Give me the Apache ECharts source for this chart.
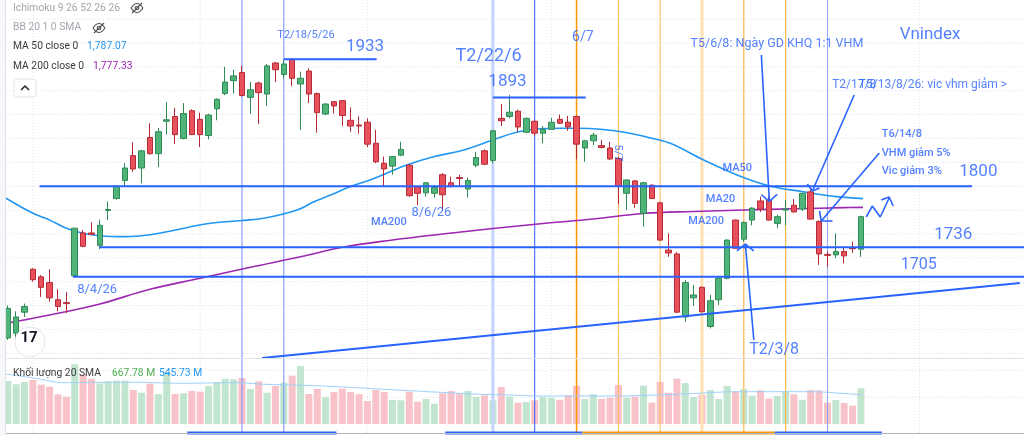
<!DOCTYPE html>
<html>
<head>
<meta charset="utf-8">
<title>Vnindex</title>
<script src="https://cdn.jsdelivr.net/npm/echarts@6/dist/echarts.min.js"></script>
<style>
    html, body { margin: 0; padding: 0; background: #fff; }
    #chart { width: 1024px; height: 435px; }
</style>
</head>
<body>
<div id="chart"></div>
<script>
    // sessions start 27/3/2026, VN holidays skipped
    var holidays = ['2026-04-27', '2026-04-30', '2026-05-01', '2026-09-01', '2026-09-02'];

    // [open, close, low, high]
    var candles = [
        [1641, 1672, 1639, 1675], [1646, 1663, 1640, 1669], [1668, 1674, 1663, 1677], [1713, 1702, 1700, 1714],
        [1705, 1694, 1684, 1707], [1699, 1683, 1679, 1713], [1681, 1674, 1669, 1692], [1678, 1677, 1667, 1689],
        [1706, 1756, 1705, 1756], [1751, 1737, 1736, 1754], [1751, 1749.5, 1749, 1762], [1738, 1759, 1734, 1765],
        [1774.5, 1775.5, 1764.5, 1784], [1787, 1800, 1786, 1801], [1806, 1819, 1799, 1824], [1832, 1818, 1815, 1846],
        [1819, 1837, 1803, 1838], [1851, 1834, 1833, 1866], [1834, 1857, 1820, 1861], [1868, 1869.5, 1854, 1888],
        [1873, 1854, 1844, 1882], [1850, 1876, 1849, 1887], [1879, 1854, 1853.5, 1880.5], [1870, 1854, 1841, 1877],
        [1853, 1874.5, 1849, 1876], [1881, 1891, 1869, 1892], [1897, 1909, 1895.5, 1925], [1910.5, 1915.5, 1897, 1922],
        [1919, 1895, 1894, 1926], [1893, 1901, 1876, 1909], [1908, 1898, 1865, 1909.5], [1896.5, 1926, 1884, 1928],
        [1929, 1922, 1909, 1930], [1917, 1928, 1913, 1932], [1933, 1913, 1905, 1934], [1907, 1913, 1859, 1920],
        [1920.5, 1896.5, 1887, 1923.5], [1897, 1877, 1856, 1898], [1875.5, 1886, 1874.5, 1887], [1888.5, 1884, 1876, 1888.5],
        [1889.5, 1874, 1863, 1890], [1869, 1863, 1857, 1882.5], [1864, 1863, 1855, 1873], [1867, 1844, 1841, 1871],
        [1845, 1825.5, 1824, 1859], [1824, 1818, 1799, 1831], [1821, 1831, 1812, 1831.5], [1832.5, 1838.5, 1831.5, 1846.5],
        [1822, 1790, 1789, 1823], [1799.5, 1792.5, 1780, 1800], [1793, 1803.5, 1789, 1804.5], [1792.5, 1798.5, 1788, 1801],
        [1812, 1791, 1775, 1813.5], [1803.5, 1799.5, 1799, 1810], [1809, 1808, 1800, 1812], [1797, 1806, 1788, 1809],
        [1822, 1830, 1820, 1836], [1837, 1823, 1822, 1838.5], [1827, 1858, 1824, 1859], [1871, 1868.5, 1863, 1886],
        [1873, 1877.5, 1871, 1895.5], [1878.5, 1862, 1857, 1880], [1856.5, 1871, 1855.5, 1872], [1868, 1855.5, 1852, 1869],
        [1855.5, 1859.5, 1845, 1863], [1859.5, 1867, 1859, 1871.5], [1870, 1866, 1865, 1875], [1867, 1862, 1858, 1873.5],
        [1873, 1844, 1828, 1874], [1840, 1847.5, 1825.5, 1848.5], [1847.5, 1853.5, 1843, 1856], [1842.5, 1840.5, 1839.5, 1848.5],
        [1840, 1828.5, 1827.5, 1846.5], [1829, 1800, 1781, 1831], [1792.5, 1806.5, 1775, 1807], [1805.5, 1782, 1777, 1806.5],
        [1771.5, 1803.5, 1757.5, 1804.5], [1801, 1787, 1786.5, 1802], [1782.5, 1743.5, 1743, 1783.5], [1733, 1730, 1726, 1750.5],
        [1729, 1668, 1667, 1731], [1663, 1699, 1658, 1701.5], [1683, 1686, 1674.5, 1696.5], [1694, 1668.5, 1667.5, 1695],
        [1653, 1680, 1651, 1686], [1681, 1703.5, 1675.5, 1705], [1703.5, 1743.5, 1702.5, 1744.5], [1764.5, 1735, 1734.5, 1765],
        [1744.5, 1762, 1742, 1763], [1764.5, 1777, 1759, 1778], [1784.5, 1776, 1773, 1789], [1785, 1764.5, 1764, 1789],
        [1761, 1768, 1756, 1770], [1775, 1776, 1759, 1785.5], [1780, 1773, 1772.5, 1786.5], [1776, 1792.5, 1774, 1793],
        [1794, 1765.5, 1765, 1798], [1763, 1729, 1717.5, 1764], [1728.5, 1727.5, 1715.5, 1731.5], [1728, 1731.5, 1724.5, 1750.5],
        [1731.5, 1727, 1719, 1736.5], [1735.5, 1734.5, 1730, 1742], [1734, 1768, 1726, 1769]
    ];

    // volume, millions
    var volumes = [
        804, 742, 785, 823, 735, 698, 555, 511, 1116, 929,
        847, 761, 798, 810, 810, 636, 585, 754, 561, 972,
        561, 574, 617, 604, 711, 785, 847, 836, 860, 655,
        798, 585, 711, 772, 903, 1085, 561, 655, 505, 598,
        660, 598, 555, 430, 636, 598, 449, 443, 604, 417,
        468, 380, 574, 617, 574, 617, 505, 537, 443, 692,
        511, 398, 411, 443, 505, 492, 454, 542, 716, 468,
        555, 468, 492, 729, 492, 511, 716, 398, 785, 585,
        847, 767, 505, 548, 636, 468, 711, 604, 655, 529,
        630, 473, 524, 617, 555, 454, 636, 630, 398, 449,
        393, 342, 668
    ];

    // indicator curves: [session index, value]
    var ma50 = [[-0.2, 1787.3], [3, 1771.6], [5, 1764.5], [7, 1755.9], [9, 1750.6], [11, 1748.1], [13.4, 1747.1],
        [15.7, 1747.8], [18.1, 1750.6], [20.5, 1754.8], [22.9, 1759.3], [25, 1762], [27.8, 1763.8], [30.6, 1766.3],
        [34.6, 1775], [36.6, 1783.7], [38.6, 1790.7], [40.9, 1799.4], [43.3, 1806.5], [45.7, 1815.1], [47.7, 1822.2],
        [50.9, 1830.9], [54.2, 1837.1], [58, 1848.4], [60.6, 1856], [63, 1859.6], [66.2, 1860.6], [68.1, 1860.6],
        [70.9, 1859.6], [74.1, 1856], [76.5, 1851.2], [79.2, 1844.9], [83.2, 1827.4], [87.2, 1811.7], [91.1, 1800.2],
        [95.1, 1794.2], [99.1, 1789], [102.25, 1786.9]];
    var ma200 = [[-0.2, 1656.3], [5, 1665], [11, 1676.6], [17, 1692], [23, 1703.5], [29, 1715], [35, 1726],
        [40, 1736], [46, 1743.6], [52, 1749.9], [58, 1755.6], [64, 1760.9], [70, 1765.6], [76, 1771.4], [82, 1773.5],
        [88, 1775], [94, 1776.3], [100, 1777.5], [102.25, 1777.8]];
    var volSma = [[-0.9, 948], [1.45, 898], [3.8, 842], [6.6, 772], [11, 780], [14.9, 780], [20.9, 761], [26.8, 772],
        [30.9, 742], [36.8, 716], [42.8, 668], [48.7, 617], [52.6, 585], [56.6, 555], [60, 542], [64, 524], [72, 524],
        [79.9, 555], [87.8, 604], [95.7, 604], [99.7, 574], [102.1, 542]];

    // grid ticks
    var priceTicks = [1625, 1650, 1675, 1700, 1725, 1750, 1775, 1800, 1825, 1850, 1875, 1900, 1925, 1950, 1975];
    var volTicks = [500, 1000];
    var monthStarts = [3, 23, 43, 65, 88, 109];
    var weekLines = [28, 33, 58, 63, 68, 73, 78, 83, 88, 93, 98];

    // drawings: [fromIndex, toIndex, price]
    var levels = [[33, 44.1, 1933], [58, 69.1, 1893], [3.8, 115.3, 1800], [11, 121.5, 1736], [7.8, 121.5, 1705]];
    var trend = [[30.4, 1620], [121, 1698.6]];
    var arrows = [
        [[90.1, 1937.4], [91.05, 1785]],
        [[101.2, 1895.5], [96.2, 1794.9]],
        [[104.2, 1834.7], [97.26, 1763.5]],
        [[89.2, 1638.9], [88.18, 1739.4]],
        [[102.64, 1767.7], [103.36, 1779.2], [104.31, 1767.7], [105.38, 1787.6]]
    ];
    var arrowHeads = [
        [[90.1, 1791], [91.05, 1784], [92.0, 1791.5]],
        [[95.6, 1802.3], [96.2, 1794.9], [97.05, 1798.1]],
        [[97.05, 1774], [97.26, 1763.5], [98.6, 1763.5]],
        [[87.17, 1732.1], [88.18, 1739.4], [89.19, 1732.1]],
        [[104.43, 1785.5], [105.38, 1788.6], [105.86, 1779.2]]
    ];
    var timeRanges = [[21.45, 39.3, 'b'], [52.3, 68.7, 'b'], [68.7, 91.7, 'o'], [91.7, 104.5, 'b']];

    var notes = [
        [32.17, 1958.3, 'T2/18/5/26'], [40.37, 1945.8, '1933'], [53.48, 1935.3, 'T2/22/6'], [57.4, 1909.1, '1893'],
        [67.4, 1955.2, '6/7'], [81.57, 1948.9, 'T5/6/8: Ngày GD KHQ 1:1 VHM'], [106.57, 1958.3, 'Vnindex'],
        [98.5, 1906, 'T2/17/8'], [101.69, 1906, 'T5/13/8/26: vic vhm giảm >'], [104.43, 1854.6, 'T6/14/8'],
        [104.43, 1834.7, 'VHM giảm 5%'], [104.43, 1815.9, 'Vic giảm 3%'], [113.7, 1814.8, '1800'],
        [110.7, 1748.8, '1736'], [106.7, 1717.4, '1705'], [88.6, 1628.4, 'T2/3/8'], [85.4, 1819, 'MA50'],
        [83.4, 1786.5, 'MA20'], [81.3, 1763.5, 'MA200'], [43.36, 1762.5, 'MA200'], [48.2, 1771.9, '8/6/26'],
        [8.24, 1691.2, '8/4/26'], [72.9, 1834.7, '5/7']
    ];
    var noteSize = [11, 17, 18, 17, 14, 12.5, 17, 12, 12, 11, 11, 11, 17, 17, 16, 16, 11, 11, 11, 11, 13, 13, 11];

    var sessions = [];
    (function () {
        var d = new Date(Date.UTC(2026, 2, 27));
        while (sessions.length < 122) {
            var wd = d.getUTCDay();
            var s = d.toISOString().slice(0, 10);
            if (wd !== 0 && wd !== 6 && holidays.indexOf(s) < 0) sessions.push(s);
            d.setUTCDate(d.getUTCDate() + 1);
        }
    })();

    var BLUE = '#2962ff';
    var TXT = 'Roboto, "Noto Sans", sans-serif';
    var series = [];

    // pane 0 = price, pane 1 = volume
    function seg(pts, color, width, type, pane, z, clip) {
        series.push({
            type: 'line', xAxisIndex: pane ? 3 : 2, yAxisIndex: pane ? 1 : 0,
            data: pts, symbol: 'none', silent: true, z: z, clip: clip !== false,
            lineStyle: { color: color, width: width, type: type || 'solid' }
        });
    }

    priceTicks.forEach(function (p) { seg([[-0.5, p], [121.5, p]], '#dde0e7', 1, [1, 2], 0, 1); });
    volTicks.forEach(function (v) { seg([[-0.5, v], [121.5, v]], '#dde0e7', 1, [1, 2], 1, 1); });
    monthStarts.forEach(function (i) {
        seg([[i, 1620], [i, 1995]], '#dde0e7', 1, [1, 2], 0, 1);
        seg([[i, -168], [i, 1215]], '#dde0e7', 1, [1, 2], 1, 1);
    });

    var weekStyle = {
        28: ['#6f8cff', 1], 33: ['#6f8cff', 1], 58: ['#c3d2fb', 3], 63: ['#2f5bff', 1], 68: ['#ff9800', 1.5],
        73: ['#ffb74d', 1], 78: ['#ffb74d', 1], 83: ['#ffe0b2', 3], 88: ['#ffb74d', 1.2], 93: ['#ffb74d', 1.2], 98: ['#8aa4ff', 1]
    };
    weekLines.forEach(function (i) {
        var st = weekStyle[i];
        seg([[i, 1620], [i, 1995]], st[0], st[1], 'solid', 0, 2);
        seg([[i, -168], [i, 1215]], st[0], st[1], 'solid', 1, 3);
    });

    series.push({
        type: 'line', xAxisIndex: 2, yAxisIndex: 0, data: ma200, smooth: 0.4, symbol: 'none', silent: true, z: 3,
        lineStyle: { color: '#9c27b0', width: 1.6 }
    });
    series.push({
        type: 'line', xAxisIndex: 2, yAxisIndex: 0, data: ma50, smooth: 0.4, symbol: 'none', silent: true, z: 3,
        lineStyle: { color: '#2196f3', width: 1.6 }
    });

    series.push({
        type: 'candlestick', xAxisIndex: 0, yAxisIndex: 0, data: candles, barWidth: 6, z: 4, silent: true,
        itemStyle: {
            color: '#4fb37a', color0: '#e8505c',
            borderColor: '#2f8a55', borderColor0: '#b52a35', borderWidth: 1
        }
    });

    series.push({
        type: 'bar', xAxisIndex: 1, yAxisIndex: 1, barWidth: 7, z: 2, silent: true,
        data: volumes.map(function (v, i) {
            var up = candles[i][1] >= candles[i][0];
            return { value: v, itemStyle: { color: up ? '#c2e5d0' : '#f8c3c8' } };
        })
    });
    series.push({
        type: 'line', xAxisIndex: 3, yAxisIndex: 1, data: volSma, smooth: 0.4, symbol: 'none', silent: true, z: 4,
        lineStyle: { color: '#9fd0f7', width: 1 }
    });

    levels.forEach(function (l) { seg([[l[0], l[2]], [l[1], l[2]]], BLUE, 2, 'solid', 0, 5); });
    seg(trend, BLUE, 2, 'solid', 0, 5, false);
    arrows.forEach(function (a) { seg(a, BLUE, 1.6, 'solid', 0, 6); });
    arrowHeads.forEach(function (a) { seg(a, BLUE, 1.6, 'solid', 0, 6); });
    timeRanges.forEach(function (r) {
        seg([[r[0], -168], [r[1], -168]], r[2] === 'o' ? '#ff9800' : BLUE, 3, 'solid', 1, 7, false);
    });

    series.push({
        type: 'scatter', xAxisIndex: 2, yAxisIndex: 0, symbolSize: 1, silent: true, z: 8,
        itemStyle: { color: 'transparent' },
        data: notes.map(function (n, k) {
            var strong = /^(T6|VHM|Vic|MA)/.test(n[2]);
            var lab = {
                show: true, position: 'right', distance: 0, formatter: n[2], color: BLUE,
                fontSize: noteSize[k], fontFamily: TXT, fontWeight: strong ? 500 : 400
            };
            if (n[2] === '5/7') { lab.rotate = -90; lab.position = 'inside'; }
            return { value: [n[0], n[1]], label: lab };
        })
    });

    function txt(x, y, s, color, size) {
        return {
            type: 'text', x: x, y: y, z: 100,
            style: { text: s, fill: color, font: (size || 10.3) + 'px ' + TXT, verticalAlign: 'middle' }
        };
    }
    function eye(cx, cy) {
        return {
            type: 'group', x: cx, y: cy, z: 100, children: [
                { type: 'bezierCurve', shape: { x1: -6, y1: 0, cpx1: -2, cpy1: -6, cpx2: 2, cpy2: -6, x2: 6, y2: 0 }, style: { stroke: '#555', lineWidth: 1.2, fill: null } },
                { type: 'bezierCurve', shape: { x1: -6, y1: 0, cpx1: -2, cpy1: 6, cpx2: 2, cpy2: 6, x2: 6, y2: 0 }, style: { stroke: '#555', lineWidth: 1.2, fill: null } },
                { type: 'circle', shape: { cx: 0, cy: 0, r: 1.8 }, style: { stroke: '#555', fill: null, lineWidth: 1.1 } },
                { type: 'line', shape: { x1: -5, y1: 5, x2: 5, y2: -5 }, style: { stroke: '#555', lineWidth: 1.2 } }
            ]
        };
    }

    var chart = echarts.init(document.getElementById('chart'));
    chart.setOption({
        animation: false,
        backgroundColor: '#ffffff',
        grid: [
            { left: 3.6, top: 0, width: 1024.8, height: 358 },
            { left: 3.6, top: 359, width: 1024.8, height: 74 }
        ],
        xAxis: [
            { type: 'category', gridIndex: 0, data: sessions, show: false },
            { type: 'category', gridIndex: 1, data: sessions, show: false },
            { type: 'value', gridIndex: 0, min: -0.5, max: 121.5, show: false, position: 'top' },
            { type: 'value', gridIndex: 1, min: -0.5, max: 121.5, show: false, position: 'top' }
        ],
        yAxis: [
            { type: 'value', gridIndex: 0, min: 1620, max: 1995, show: false },
            { type: 'value', gridIndex: 1, min: -168, max: 1215, show: false }
        ],
        series: series,
        graphic: [
            { type: 'rect', z: 100, shape: { x: 0, y: 0, width: 5, height: 435 }, style: { fill: '#f6f7f9' } },
            { type: 'line', z: 100, shape: { x1: 5.5, y1: 0, x2: 5.5, y2: 435 }, style: { stroke: '#dfe2e8', lineWidth: 1 } },
            { type: 'line', z: 100, shape: { x1: 6, y1: 358.5, x2: 1024, y2: 358.5 }, style: { stroke: '#e0e3eb', lineWidth: 1 } },
            { type: 'line', z: 90, shape: { x1: 6, y1: 433.5, x2: 1024, y2: 433.5 }, style: { stroke: '#b2b5be', lineWidth: 1 } },
            txt(13, 8, 'Ichimoku 9 26 52 26 26', '#a3a6af'),
            eye(137, 8),
            txt(13, 27.5, 'BB 20 1 0 SMA', '#a3a6af'),
            eye(99, 28),
            txt(13, 46.5, 'MA 50 close 0', '#3b3b3b'),
            txt(87, 46.5, '1,787.07', '#2196f3'),
            txt(13, 66, 'MA 200 close 0', '#3b3b3b'),
            txt(93, 66, '1,777.33', '#9c27b0'),
            { type: 'rect', z: 100, shape: { x: 14, y: 79, width: 22, height: 18, r: 3 }, style: { fill: '#fff', stroke: '#e0e3eb' } },
            { type: 'polyline', z: 101, shape: { points: [[21, 90], [25, 86], [29, 90]] }, style: { stroke: '#222', lineWidth: 1.5, fill: null } },
            txt(13, 373, 'Khối lượng 20 SMA', '#3b3b3b'),
            txt(112, 373, '667.78 M', '#4caf50'),
            txt(159, 373, '545.73 M', '#2196f3'),
            { type: 'circle', z: 100, shape: { cx: 30, cy: 342, r: 15 }, style: { fill: '#fff', stroke: '#e6e8ec' } },
            { type: 'text', z: 101, x: 29, y: 338, style: { text: '17', font: 'bold 15px ' + TXT, fill: '#131722', align: 'center', verticalAlign: 'middle' } }
        ]
    });
</script>
</body>
</html>
